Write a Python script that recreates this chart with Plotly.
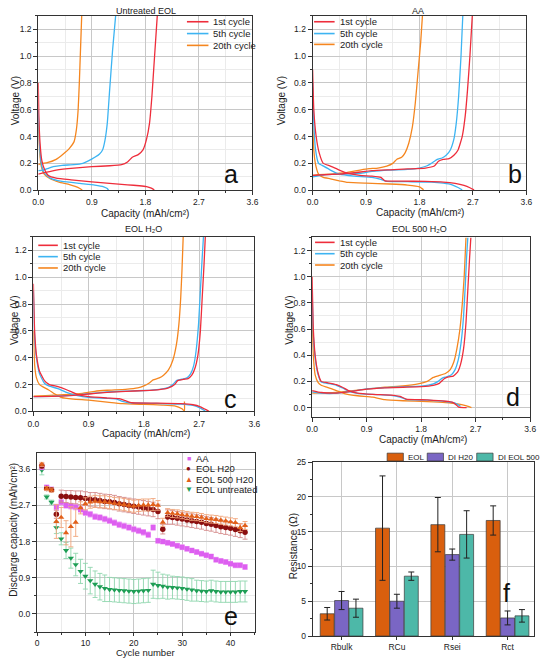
import plotly.graph_objects as go

W, H = 546, 663
FONT = "Arial, 'Liberation Sans', sans-serif"

# ---------------- DATA: galvanostatic curves (capacity mAh/cm2, voltage V) ----------------
# Panel a: Untreated EOL
a1_dis_q = [0, 0.01, 0.03, 0.06, 0.1, 0.17, 0.3, 0.55, 0.9, 1.2, 1.5, 1.7, 1.82, 1.9, 1.95]
a1_dis_v = [0.8, 0.55, 0.35, 0.22, 0.16, 0.11, 0.09, 0.077, 0.062, 0.05, 0.04, 0.033, 0.026, 0.015, 0.002]
a1_chg_q = [0, 0.1, 0.3, 0.6, 0.9, 1.2, 1.4, 1.5, 1.58, 1.68, 1.76, 1.82, 1.87, 1.91, 1.94, 1.97, 2.0]
a1_chg_v = [0.12, 0.13, 0.15, 0.165, 0.175, 0.182, 0.19, 0.21, 0.245, 0.265, 0.3, 0.38, 0.5, 0.7, 0.9, 1.1, 1.3]
a5_dis_q = [0, 0.02, 0.05, 0.1, 0.2, 0.4, 0.7, 0.95, 1.1, 1.16, 1.18]
a5_dis_v = [0.6, 0.35, 0.2, 0.13, 0.09, 0.065, 0.05, 0.038, 0.025, 0.012, 0.0]
a5_chg_q = [0, 0.08, 0.15, 0.25, 0.4, 0.6, 0.75, 0.85, 0.95, 1.03, 1.08, 1.12, 1.16, 1.2, 1.25, 1.3]
a5_chg_v = [0.145, 0.15, 0.16, 0.175, 0.185, 0.19, 0.2, 0.22, 0.245, 0.27, 0.3, 0.37, 0.5, 0.75, 1.05, 1.3]
a20_dis_q = [0, 0.02, 0.05, 0.1, 0.2, 0.35, 0.5, 0.62, 0.7, 0.74]
a20_dis_v = [0.5, 0.3, 0.18, 0.12, 0.085, 0.06, 0.045, 0.028, 0.012, 0.0]
a20_chg_q = [0, 0.05, 0.15, 0.3, 0.42, 0.52, 0.6, 0.64, 0.67, 0.69, 0.71, 0.73]
a20_chg_v = [0.19, 0.2, 0.205, 0.23, 0.27, 0.31, 0.36, 0.45, 0.6, 0.8, 1.05, 1.3]

# Panel b: AA
b1_dis_q = [0, 0.02, 0.06, 0.11, 0.18, 0.3, 0.45, 0.6, 0.8, 1.0, 1.15, 1.22, 1.5, 1.9, 2.2, 2.4, 2.55, 2.65, 2.72]
b1_dis_v = [0.9, 0.6, 0.4, 0.28, 0.2, 0.18, 0.15, 0.125, 0.11, 0.105, 0.095, 0.07, 0.068, 0.065, 0.06, 0.05, 0.035, 0.018, 0.002]
b1_chg_q = [0, 0.2, 0.45, 0.7, 1.0, 1.3, 1.6, 1.9, 2.05, 2.12, 2.2, 2.3, 2.38, 2.45, 2.52, 2.57, 2.61, 2.65, 2.69]
b1_chg_v = [0.11, 0.115, 0.12, 0.13, 0.145, 0.152, 0.158, 0.165, 0.18, 0.215, 0.23, 0.235, 0.26, 0.3, 0.4, 0.55, 0.75, 1.0, 1.3]
b5_dis_q = [0, 0.02, 0.05, 0.1, 0.16, 0.3, 0.45, 0.7, 1.0, 1.15, 1.25, 1.6, 2.0, 2.2, 2.35, 2.45, 2.52]
b5_dis_v = [0.8, 0.5, 0.3, 0.2, 0.185, 0.15, 0.12, 0.105, 0.095, 0.08, 0.065, 0.063, 0.06, 0.052, 0.04, 0.02, 0.003]
b5_chg_q = [0, 0.2, 0.5, 0.8, 1.0, 1.3, 1.6, 1.8, 1.92, 2.0, 2.1, 2.18, 2.25, 2.32, 2.38, 2.42, 2.46, 2.5, 2.53]
b5_chg_v = [0.1, 0.115, 0.12, 0.125, 0.14, 0.15, 0.155, 0.165, 0.18, 0.2, 0.23, 0.24, 0.26, 0.3, 0.38, 0.5, 0.7, 1.0, 1.3]
b20_dis_q = [0, 0.02, 0.05, 0.1, 0.18, 0.3, 0.45, 0.6, 0.9, 1.3, 1.6, 1.8, 1.87]
b20_dis_v = [0.5, 0.3, 0.19, 0.12, 0.095, 0.085, 0.07, 0.058, 0.052, 0.046, 0.038, 0.025, 0.003]
b20_chg_q = [0, 0.1, 0.3, 0.55, 0.8, 0.95, 1.1, 1.25, 1.35, 1.42, 1.5, 1.56, 1.62, 1.68, 1.73, 1.78, 1.82, 1.85]
b20_chg_v = [0.11, 0.115, 0.12, 0.13, 0.15, 0.16, 0.165, 0.18, 0.2, 0.23, 0.245, 0.28, 0.35, 0.47, 0.65, 0.9, 1.1, 1.3]

# Panel c: EOL H2O
c1_dis_q = [0, 0.02, 0.05, 0.1, 0.18, 0.26, 0.4, 0.55, 0.7, 0.9, 1.2, 1.4, 1.5, 1.6, 2.0, 2.4, 2.6, 2.72, 2.82, 2.86]
c1_dis_v = [0.95, 0.6, 0.42, 0.3, 0.23, 0.2, 0.185, 0.16, 0.13, 0.11, 0.1, 0.095, 0.08, 0.065, 0.062, 0.058, 0.05, 0.035, 0.012, 0.002]
c1_chg_q = [0, 0.3, 0.6, 0.9, 1.2, 1.5, 1.8, 2.05, 2.2, 2.3, 2.35, 2.45, 2.52, 2.58, 2.63, 2.68, 2.72, 2.75, 2.78, 2.8]
c1_chg_v = [0.11, 0.112, 0.118, 0.13, 0.142, 0.15, 0.155, 0.162, 0.175, 0.2, 0.23, 0.24, 0.245, 0.27, 0.32, 0.42, 0.6, 0.85, 1.1, 1.3]
c5_dis_q = [0, 0.02, 0.05, 0.1, 0.18, 0.25, 0.4, 0.55, 0.7, 0.9, 1.2, 1.35, 1.45, 1.55, 2.0, 2.4, 2.6, 2.72, 2.8]
c5_dis_v = [0.9, 0.55, 0.4, 0.28, 0.21, 0.19, 0.17, 0.14, 0.12, 0.105, 0.098, 0.093, 0.075, 0.065, 0.06, 0.055, 0.045, 0.025, 0.003]
c5_chg_q = [0, 0.3, 0.6, 0.9, 1.2, 1.5, 1.8, 2.05, 2.2, 2.28, 2.33, 2.42, 2.5, 2.56, 2.61, 2.65, 2.69, 2.72, 2.75, 2.77]
c5_chg_v = [0.11, 0.112, 0.12, 0.132, 0.145, 0.152, 0.156, 0.165, 0.18, 0.205, 0.23, 0.24, 0.25, 0.28, 0.34, 0.45, 0.65, 0.9, 1.15, 1.3]
c20_dis_q = [0, 0.02, 0.05, 0.1, 0.15, 0.25, 0.35, 0.45, 0.65, 0.9, 1.2, 1.45, 1.8, 2.1, 2.3, 2.42, 2.46, 2.46]
c20_dis_v = [0.6, 0.35, 0.25, 0.2, 0.185, 0.16, 0.13, 0.105, 0.092, 0.085, 0.07, 0.058, 0.053, 0.048, 0.042, 0.02, 0.003, 0.075]
c20_chg_q = [0, 0.2, 0.5, 0.8, 1.0, 1.2, 1.5, 1.7, 1.8, 1.88, 1.95, 2.05, 2.12, 2.2, 2.27, 2.33, 2.37, 2.4, 2.42, 2.44]
c20_chg_v = [0.115, 0.118, 0.125, 0.135, 0.15, 0.158, 0.165, 0.175, 0.19, 0.21, 0.235, 0.25, 0.27, 0.31, 0.38, 0.5, 0.65, 0.85, 1.05, 1.3]

# Panel d: EOL 500 H2O
d1_dis_q = [0, 0.02, 0.05, 0.1, 0.15, 0.25, 0.4, 0.5, 0.6, 0.75, 1.0, 1.3, 1.45, 1.55, 1.9, 2.2, 2.32, 2.38, 2.42, 2.5, 2.55]
d1_dis_v = [1.0, 0.6, 0.4, 0.26, 0.2, 0.19, 0.175, 0.155, 0.13, 0.11, 0.1, 0.095, 0.085, 0.065, 0.058, 0.048, 0.04, 0.02, 0.003, 0.0, 0.0]
d1_chg_q = [0, 0.15, 0.35, 0.6, 0.9, 1.2, 1.5, 1.8, 2.0, 2.1, 2.18, 2.25, 2.33, 2.4, 2.45, 2.5, 2.54, 2.57, 2.6, 2.62]
d1_chg_v = [0.13, 0.115, 0.11, 0.12, 0.14, 0.15, 0.155, 0.16, 0.17, 0.185, 0.22, 0.235, 0.24, 0.27, 0.33, 0.45, 0.65, 0.9, 1.15, 1.3]
d5_dis_q = [0, 0.02, 0.05, 0.1, 0.15, 0.25, 0.4, 0.5, 0.6, 0.75, 1.0, 1.3, 1.45, 1.55, 1.9, 2.2, 2.35, 2.45]
d5_dis_v = [0.9, 0.55, 0.38, 0.25, 0.195, 0.185, 0.17, 0.15, 0.125, 0.108, 0.1, 0.093, 0.08, 0.063, 0.056, 0.046, 0.035, 0.01]
d5_chg_q = [0, 0.15, 0.35, 0.6, 0.9, 1.2, 1.5, 1.8, 2.0, 2.08, 2.15, 2.22, 2.3, 2.36, 2.41, 2.46, 2.5, 2.53, 2.55, 2.57]
d5_chg_v = [0.12, 0.11, 0.108, 0.12, 0.142, 0.152, 0.158, 0.163, 0.18, 0.2, 0.225, 0.235, 0.25, 0.29, 0.36, 0.5, 0.7, 0.95, 1.15, 1.3]
d20_dis_q = [0, 0.02, 0.05, 0.1, 0.15, 0.25, 0.4, 0.55, 0.75, 1.0, 1.2, 1.5, 1.9, 2.2, 2.4, 2.55, 2.63]
d20_dis_v = [0.7, 0.4, 0.25, 0.19, 0.17, 0.155, 0.13, 0.105, 0.09, 0.08, 0.06, 0.052, 0.045, 0.038, 0.028, 0.012, 0.0]
d20_chg_q = [0, 0.2, 0.4, 0.6, 0.9, 1.2, 1.5, 1.75, 1.9, 2.0, 2.1, 2.2, 2.28, 2.34, 2.39, 2.44, 2.48, 2.51, 2.53, 2.54]
d20_chg_v = [0.11, 0.112, 0.115, 0.125, 0.14, 0.155, 0.165, 0.18, 0.2, 0.23, 0.245, 0.26, 0.29, 0.35, 0.45, 0.6, 0.8, 1.0, 1.2, 1.3]

cycle_names = ["1st cycle", "5th cycle", "20th cycle"]
panel_titles = ["Untreated EOL", "AA", "EOL H₂O", "EOL 500 H₂O"]

# ---------------- DATA: panel e (discharge capacity vs cycle) ----------------
cycles = list(range(1, 44))
cap_AA = [3.65, 3.15, 3.1, 2.66, 2.78, 2.7, 2.68, 2.66, 2.6, 2.52, 2.48, 2.42, 2.4, 2.36, 2.32, 2.27, 2.22,
          2.19, 2.15, 2.11, 2.07, 2.03, 1.97, 2.15, 1.82, 1.8, 1.77, 1.74, 1.7, 1.66, 1.62, 1.58, 1.54, 1.5,
          1.46, 1.43, 1.35, 1.32, 1.29, 1.25, 1.21, 1.21, 1.17]
err_AA = [0.06, 0.05, 0.05, 0.07, 0.07, 0.07, 0.07, 0.07, 0.07, 0.07, 0.07, 0.07, 0.07, 0.07, 0.07, 0.07, 0.07,
          0.07, 0.07, 0.07, 0.07, 0.07, 0.07, 0.07, 0.06, 0.06, 0.06, 0.06, 0.06, 0.06, 0.06, 0.06, 0.06, 0.06,
          0.06, 0.06, 0.06, 0.06, 0.06, 0.06, 0.06, 0.06, 0.06]
cap_H20 = [3.68, 3.12, 3.09, 2.48, 2.93, 2.92, 2.91, 2.9, 2.89, 2.87, 2.85, 2.84, 2.82, 2.8, 2.79, 2.77, 2.74,
           2.72, 2.7, 2.68, 2.66, 2.64, 2.62, 2.6, 2.55, 2.11, 2.41, 2.4, 2.38, 2.36, 2.34, 2.32, 2.3, 2.28,
           2.25, 2.23, 2.2, 2.17, 2.15, 2.13, 2.1, 2.07, 2.03]
err_H20 = [0.06, 0.05, 0.05, 0.1, 0.15, 0.15, 0.16, 0.16, 0.17, 0.17, 0.17, 0.18, 0.18, 0.18, 0.18, 0.18, 0.18,
           0.18, 0.18, 0.18, 0.18, 0.18, 0.18, 0.18, 0.18, 0.12, 0.18, 0.17, 0.17, 0.17, 0.17, 0.17, 0.17, 0.17,
           0.17, 0.17, 0.17, 0.17, 0.17, 0.17, 0.17, 0.17, 0.17]
cap_500 = [3.72, 3.12, 3.08, 2.3, 2.4, 2.02, 2.17, 2.28, 2.64, 2.74, 2.78, 2.8, 2.79, 2.79, 2.77, 2.75, 2.74,
           2.72, 2.7, 2.68, 2.7, 2.71, 2.71, 2.72, 2.7, 2.28, 2.52, 2.5, 2.49, 2.47, 2.45, 2.43, 2.42, 2.4,
           2.37, 2.36, 2.35, 2.33, 2.31, 2.29, 2.27, 2.15, 2.2]
err_500 = [0.05, 0.05, 0.05, 0.42, 0.25, 0.3, 0.5, 0.35, 0.15, 0.15, 0.15, 0.15, 0.15, 0.15, 0.15, 0.15, 0.15,
           0.15, 0.15, 0.15, 0.15, 0.15, 0.15, 0.15, 0.12, 0.1, 0.1, 0.1, 0.1, 0.1, 0.1, 0.1, 0.1, 0.1,
           0.1, 0.1, 0.1, 0.1, 0.1, 0.1, 0.1, 0.1, 0.1]
cap_untr = [3.58, 2.91, 2.78, 2.15, 1.87, 1.58, 1.39, 1.23, 1.06, 0.94, 0.83, 0.74, 0.68, 0.64, 0.61, 0.6, 0.59,
            0.58, 0.57, 0.56, 0.57, 0.58, 0.59, 0.74, 0.71, 0.69, 0.67, 0.66, 0.65, 0.64, 0.62, 0.6, 0.58, 0.57,
            0.56, 0.58, 0.56, 0.55, 0.55, 0.55, 0.55, 0.56, 0.56]
err_untr = [0.12, 0.05, 0.05, 0.15, 0.15, 0.2, 0.25, 0.28, 0.3, 0.32, 0.33, 0.33, 0.33, 0.33, 0.3, 0.3, 0.3,
            0.3, 0.3, 0.3, 0.3, 0.3, 0.3, 0.35, 0.33, 0.3, 0.3, 0.28, 0.28, 0.28, 0.28, 0.28, 0.26, 0.26,
            0.26, 0.26, 0.26, 0.26, 0.26, 0.26, 0.26, 0.26, 0.26]
e_names = ["AA", "EOL H20", "EOL 500 H20", "EOL untreated"]

# ---------------- DATA: panel f (resistances) ----------------
r_cats = ["Rbulk", "RCu", "Rsei", "Rct"]
r_EOL = [3.2, 15.5, 16.0, 16.6]
r_EOL_err = [0.9, 7.5, 3.9, 2.1]
r_DI = [5.1, 5.0, 11.7, 2.6]
r_DI_err = [1.3, 1.0, 0.8, 1.0]
r_DI500 = [4.0, 8.6, 14.6, 2.9]
r_DI500_err = [1.3, 0.6, 3.4, 0.9]
f_names = ["EOL", "DI H20", "DI EOL 500"]

# ---------------- STYLE ----------------
RED, BLUE, ORANGE = "#ee2d3b", "#3db4f2", "#f5861f"
CYC_COLORS = [RED, BLUE, ORANGE]
E_COLORS = ["#dd5ff0", "#8b0f0f", "#e2601a", "#1e9e55"]
E_ERRC = ["#f0a8f6", "#d58a8a", "#f0a57a", "#8fd6ae"]
E_SYMB = ["square", "circle", "triangle-up", "triangle-down"]
F_COLORS = ["#d95f0e", "#7a66c4", "#4db8a8"]
GRID = "#c8c8c8"
MGRID = "#ebebeb"
AXC = "#333333"
TICK_SIZE = 8.5


def px(x):
    return x / W


def py(y):
    return 1 - y / H


fig = go.Figure()

# panel boxes in pixels: (left, right, top, bottom)
boxes = {
    1: (33, 252, 11, 188),
    2: (313.5, 532, 11, 188),
    3: (28, 254, 235.4, 412.7),
    4: (313, 536, 236, 418),
    5: (31.7, 254.3, 455, 636.7),
    6: (313.7, 540, 464, 640.7),
}

curves = {
    1: [(a1_dis_q, a1_dis_v, a1_chg_q, a1_chg_v), (a5_dis_q, a5_dis_v, a5_chg_q, a5_chg_v),
        (a20_dis_q, a20_dis_v, a20_chg_q, a20_chg_v)],
    2: [(b1_dis_q, b1_dis_v, b1_chg_q, b1_chg_v), (b5_dis_q, b5_dis_v, b5_chg_q, b5_chg_v),
        (b20_dis_q, b20_dis_v, b20_chg_q, b20_chg_v)],
    3: [(c1_dis_q, c1_dis_v, c1_chg_q, c1_chg_v), (c5_dis_q, c5_dis_v, c5_chg_q, c5_chg_v),
        (c20_dis_q, c20_dis_v, c20_chg_q, c20_chg_v)],
    4: [(d1_dis_q, d1_dis_v, d1_chg_q, d1_chg_v), (d5_dis_q, d5_dis_v, d5_chg_q, d5_chg_v),
        (d20_dis_q, d20_dis_v, d20_chg_q, d20_chg_v)],
}

for p in range(1, 5):
    xa = "x" if p == 1 else f"x{p}"
    ya = "y" if p == 1 else f"y{p}"
    for k in [2, 1, 0]:
        dq, dv, cq, cv = curves[p][k]
        fig.add_trace(go.Scatter(
            x=list(dq) + [None] + list(cq), y=list(dv) + [None] + list(cv),
            mode="lines", line=dict(color=CYC_COLORS[k], width=1.3, shape="spline", smoothing=0.4),
            name=cycle_names[k], showlegend=False, xaxis=xa, yaxis=ya, connectgaps=False))

# panel e
e_caps = [cap_AA, cap_H20, cap_500, cap_untr]
e_errs = [err_AA, err_H20, err_500, err_untr]
for i in [3, 0, 1, 2]:
    fig.add_trace(go.Scatter(
        x=cycles, y=e_caps[i], mode="markers", name=e_names[i], showlegend=False,
        marker=dict(symbol=E_SYMB[i], color=E_COLORS[i], size=5.5 if i else 5, line=dict(width=0)),
        error_y=dict(type="data", array=e_errs[i], color=E_ERRC[i], thickness=0.9, width=2.5),
        xaxis="x5", yaxis="y5"))

# panel f
f_vals = [r_EOL, r_DI, r_DI500]
f_errs = [r_EOL_err, r_DI_err, r_DI500_err]
for i in range(3):
    fig.add_trace(go.Bar(
        x=r_cats, y=f_vals[i], name=f_names[i], showlegend=False,
        marker=dict(color=F_COLORS[i], line=dict(color="#3a3a3a", width=0.7)),
        error_y=dict(type="data", array=f_errs[i], color="#222222", thickness=1, width=3),
        xaxis="x6", yaxis="y6"))


def axis_common():
    return dict(showline=True, mirror=True, linecolor=AXC, linewidth=1, ticks="outside", ticklen=4,
                tickcolor=AXC, tickwidth=1, zeroline=False, showgrid=True, gridcolor=GRID, gridwidth=1,
                tickfont=dict(family=FONT, size=TICK_SIZE, color="#222"))


layout = dict(width=W, height=H, margin=dict(l=0, r=0, t=0, b=0), autosize=False,
              paper_bgcolor="white", plot_bgcolor="white", font=dict(family=FONT, size=10, color="#222"),
              barmode="group", bargap=0.22, bargroupgap=0.03, showlegend=False)

for p in range(1, 7):
    l, r, t, b = boxes[p]
    xk = "xaxis" if p == 1 else f"xaxis{p}"
    yk = "yaxis" if p == 1 else f"yaxis{p}"
    xa = axis_common()
    ya = axis_common()
    xa.update(domain=[px(l), px(r)], anchor="y" if p == 1 else f"y{p}")
    ya.update(domain=[py(b), py(t)], anchor="x" if p == 1 else f"x{p}")
    if p <= 4:
        xa.update(range=[0, 3.6], tick0=0, dtick=0.9, tickformat=".1f",
                  minor=dict(dtick=0.45, showgrid=True, gridcolor=MGRID, ticks="outside", ticklen=2, tickcolor=AXC))
        ya.update(range=[-0.07 if p == 4 else 0, 1.3], tick0=0, dtick=0.2, tickformat=".1f",
                  minor=dict(dtick=0.1, showgrid=True, gridcolor=MGRID, ticks="outside", ticklen=2, tickcolor=AXC))
    elif p == 5:
        xa.update(range=[0, 45], tick0=0, dtick=10, ticklen=3,
                  minor=dict(dtick=5, showgrid=True, gridcolor=MGRID, ticks="outside", ticklen=2, tickcolor=AXC))
        ya.update(range=[-0.45, 4.0], tick0=0, dtick=0.9, tickformat=".1f",
                  minor=dict(dtick=0.45, showgrid=True, gridcolor=MGRID, ticks="outside", ticklen=2, tickcolor=AXC))
    else:
        xa.update(type="category", range=[-0.52, 3.48], categoryorder="array", categoryarray=r_cats, ticklen=3)
        ya.update(range=[0, 25], tick0=0, dtick=5,
                  minor=dict(dtick=2.5, showgrid=False, ticks="outside", ticklen=2, tickcolor=AXC))
    layout[xk] = xa
    layout[yk] = ya

fig.update_layout(**layout)

ann = []
shapes = []


def text(x, y, s, size=10, xanchor="center", yanchor="middle", angle=0, color="#222"):
    ann.append(dict(x=px(x), y=py(y), xref="paper", yref="paper", text=s, showarrow=False,
                    xanchor=xanchor, yanchor=yanchor, textangle=angle,
                    font=dict(family=FONT, size=size, color=color)))


# panel titles
text(143, 6, panel_titles[0], size=9)
text(421, 6, panel_titles[1], size=9)
text(141, 227, panel_titles[2], size=9)
text(423, 227, panel_titles[3], size=9)

# axis titles
cap_title = "Capacity (mAh/cm²)"
text(142, 212, cap_title)
text(423, 211, cap_title)
text(143, 435, cap_title)
text(426, 441, "Capactiy (mAh/cm²)")
text(10, 97, "Voltage (V)", angle=-90)
text(282, 97, "Voltage (V)", angle=-90)
text(8, 320, "Voltage (V)", angle=-90)
text(290, 320, "Voltage (V)", angle=-90)
text(143, 657.5, "Cycle number", size=9.5)
text(8, 533, "Discharge capacity (mAh/cm²)", angle=-90)
text(294, 550, "Resistance (Ω)", angle=-90)

# panel letters
for (lx, ly, s) in [(230, 172, "a"), (520, 172, "b"), (230, 400, "c"), (518, 398, "d"),
                    (230, 620, "e"), (512, 597, "f")]:
    text(lx, ly, s, size=25, color="#111")

# legends for panels a-d
leg_pos = [(185, 207, [17, 29, 41]), (315, 336, [17, 29, 40]), (33, 53, [244, 255.5, 267]),
           (316, 336, [241, 252.5, 264])]
for (x0, x1, rows) in leg_pos:
    for k in range(3):
        shapes.append(dict(type="line", xref="paper", yref="paper", x0=px(x0), x1=px(x1),
                           y0=py(rows[k]), y1=py(rows[k]), line=dict(color=CYC_COLORS[k], width=1.6)))
        text(x1 + 3, rows[k], cycle_names[k], size=9.5, xanchor="left")

# legend e
e_sym_chars = ["■", "●", "▲", "▼"]
e_rows = [460, 471, 481.5, 492]
for i in range(4):
    text(187, e_rows[i], e_sym_chars[i], size=7 if i == 0 else 8, color=E_COLORS[i])
    text(192, e_rows[i], e_names[i], size=9.5, xanchor="left")

# legend f
f_sw = [(389.7, 406.3, 408.5), (430.7, 447.3, 450), (481.3, 498, 500.5)]
for i in range(3):
    a0, a1, tx = f_sw[i]
    shapes.append(dict(type="rect", xref="paper", yref="paper", x0=px(a0), x1=px(a1),
                       y0=py(463), y1=py(455), fillcolor=F_COLORS[i], line=dict(color="#3a3a3a", width=0.7)))
    text(tx, 459, f_names[i], size=8, xanchor="left")

fig.update_layout(annotations=ann, shapes=shapes)
fig.write_html("out.html")
